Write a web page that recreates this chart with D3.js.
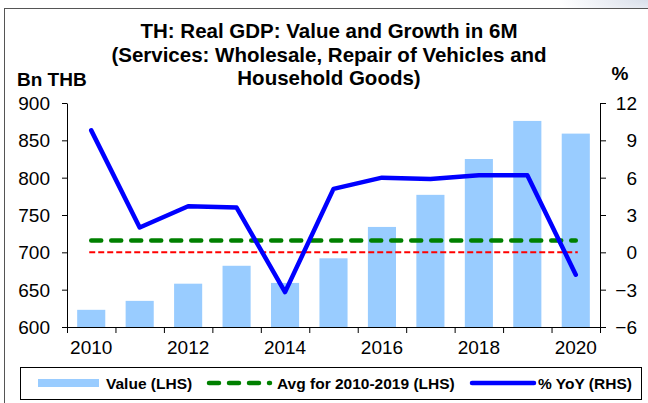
<!DOCTYPE html>
<html>
<head>
<meta charset="utf-8">
<script src="https://cdn.jsdelivr.net/npm/d3@7"></script>
<style>
  body { margin: 0; background: #fff; }
  svg { display: block; font-family: Arial, "Liberation Sans", sans-serif; }
</style>
</head>
<body>
<div id="chart"></div>
<script>
// data
var years = ["2010", "2011", "2012", "2013", "2014", "2015", "2016", "2017", "2018", "2019", "2020"];
var valueLHS = [623, 635, 658, 682, 659, 692, 734, 777, 825, 876, 859];
var yoyRHS = [9.8, 2.0, 3.7, 3.6, -3.2, 5.1, 6.0, 5.9, 6.2, 6.2, -1.8];
var avg2010to2019 = 716;
var leftTicks = [600, 650, 700, 750, 800, 850, 900];
var rightTicks = [-6, -3, 0, 3, 6, 9, 12];
var yearLabels = ["2010", "2012", "2014", "2016", "2018", "2020"];

var width = 648, height = 403;
var plot = { left: 67, right: 600, top: 103, bottom: 327 };

var svg = d3.select("#chart").append("svg")
    .attr("width", width)
    .attr("height", height);

// faint shade at top right corner
var grad = svg.append("defs").append("radialGradient")
    .attr("id", "shade").attr("cx", "50%").attr("cy", "50%").attr("r", "50%");
grad.append("stop").attr("offset", "0%").attr("stop-color", "#d9dfea");
grad.append("stop").attr("offset", "100%").attr("stop-color", "#ffffff");
svg.append("ellipse")
    .attr("cx", 648).attr("cy", 0).attr("rx", 90).attr("ry", 22)
    .attr("fill", "url(#shade)");

// outer frame
svg.append("rect")
    .attr("x", 4.5).attr("y", 8.5)
    .attr("width", 660).attr("height", 420)
    .attr("fill", "#fff")
    .attr("stroke", "#555")
    .attr("stroke-width", 1);

var x = d3.scaleBand()
    .domain(years)
    .range([plot.left, plot.right])
    .paddingInner(0.42)
    .paddingOuter(0.21);

var xEdge = d3.scaleLinear()
    .domain([0, years.length])
    .range([plot.left, plot.right]);

var yL = d3.scaleLinear().domain([600, 900]).range([plot.bottom, plot.top]);
var yR = d3.scaleLinear().domain([-6, 12]).range([plot.bottom, plot.top]);

var mid = d => x(d) + x.bandwidth() / 2;

// title
var title = svg.append("text")
    .attr("text-anchor", "middle")
    .attr("font-weight", "bold")
    .attr("font-size", 20.5)
    .attr("fill", "#000");
["TH: Real GDP: Value and Growth in 6M",
 "(Services: Wholesale, Repair of Vehicles and",
 "Household Goods)"].forEach(function(t, i) {
    title.append("tspan").attr("x", 329).attr("y", 38 + i * 23.5).text(t);
});

svg.append("text")
    .attr("x", 17).attr("y", 86)
    .attr("font-weight", "bold").attr("font-size", 19)
    .text("Bn THB");
svg.append("text")
    .attr("x", 620).attr("y", 80)
    .attr("text-anchor", "middle")
    .attr("font-weight", "bold").attr("font-size", 19)
    .text("%");

// bars
svg.append("g").selectAll("rect")
    .data(years)
    .enter().append("rect")
    .attr("x", d => x(d))
    .attr("width", x.bandwidth())
    .attr("y", (d, i) => yL(valueLHS[i]))
    .attr("height", (d, i) => yL(600) - yL(valueLHS[i]))
    .attr("fill", "#99ccff");

// red zero line (0% on RHS)
svg.append("line")
    .attr("x1", mid(years[0]) - 2).attr("x2", mid(years[years.length - 1]) + 2)
    .attr("y1", yR(0)).attr("y2", yR(0))
    .attr("stroke", "#ff0000")
    .attr("stroke-width", 2)
    .attr("stroke-dasharray", "6,3");

// average line
svg.append("line")
    .attr("x1", mid(years[0])).attr("x2", mid(years[years.length - 1]))
    .attr("y1", yL(avg2010to2019)).attr("y2", yL(avg2010to2019))
    .attr("stroke", "#008000")
    .attr("stroke-width", 4.5)
    .attr("stroke-linecap", "round")
    .attr("stroke-dasharray", "10,10");

// yoy line
var line = d3.line()
    .x((d, i) => mid(years[i]))
    .y(d => yR(d));
svg.append("path")
    .datum(yoyRHS)
    .attr("d", line)
    .attr("fill", "none")
    .attr("stroke", "#0000ff")
    .attr("stroke-width", 4.5)
    .attr("stroke-linejoin", "round")
    .attr("stroke-linecap", "round");

// axes
var leftAxis = svg.append("g")
    .attr("transform", `translate(${plot.left},0)`)
    .call(d3.axisLeft(yL).tickValues(leftTicks).tickSize(5).tickPadding(12).tickSizeOuter(0));
var rightAxis = svg.append("g")
    .attr("transform", `translate(${plot.right},0)`)
    .call(d3.axisRight(yR).tickValues(rightTicks).tickSize(6).tickPadding(6).tickSizeOuter(0));
rightAxis.selectAll("text").attr("text-anchor", "end").attr("x", 37);

var bottomAxis = svg.append("g")
    .attr("transform", `translate(0,${plot.bottom})`)
    .call(d3.axisBottom(xEdge).tickValues(d3.range(years.length + 1)).tickSize(6).tickFormat("").tickSizeOuter(0));
var yearAxis = svg.append("g")
    .attr("transform", `translate(0,${plot.bottom})`)
    .call(d3.axisBottom(x).tickValues(yearLabels).tickSize(0).tickPadding(14));
yearAxis.select(".domain").remove();

[leftAxis, rightAxis, bottomAxis, yearAxis].forEach(function(g) {
    g.selectAll("text").attr("font-size", 19).attr("font-family", "Arial, 'Liberation Sans', sans-serif").attr("fill", "#000");
    g.selectAll("line,path").attr("stroke", "#000");
});
leftAxis.selectAll("text").attr("dy", "0.35em");
rightAxis.selectAll("text").attr("dy", "0.35em");

// legend
var legend = svg.append("g");
legend.append("rect")
    .attr("x", 20.5).attr("y", 367.5)
    .attr("width", 621).attr("height", 32)
    .attr("fill", "#fff").attr("stroke", "#000");
legend.append("rect")
    .attr("x", 38).attr("y", 379).attr("width", 61).attr("height", 8)
    .attr("fill", "#99ccff");
legend.append("line")
    .attr("x1", 209).attr("x2", 270).attr("y1", 383).attr("y2", 383)
    .attr("stroke", "#008000").attr("stroke-width", 4.5)
    .attr("stroke-linecap", "round").attr("stroke-dasharray", "10,10");
legend.append("line")
    .attr("x1", 472).attr("x2", 534).attr("y1", 383).attr("y2", 383)
    .attr("stroke", "#0000ff").attr("stroke-width", 4.5)
    .attr("stroke-linecap", "round");
[["Value (LHS)", 106], ["Avg for 2010-2019 (LHS)", 277], ["% YoY (RHS)", 538]].forEach(function(t) {
    legend.append("text")
        .attr("x", t[1]).attr("y", 389)
        .attr("font-weight", "bold").attr("font-size", 15.5)
        .text(t[0]);
});
</script>
</body>
</html>
